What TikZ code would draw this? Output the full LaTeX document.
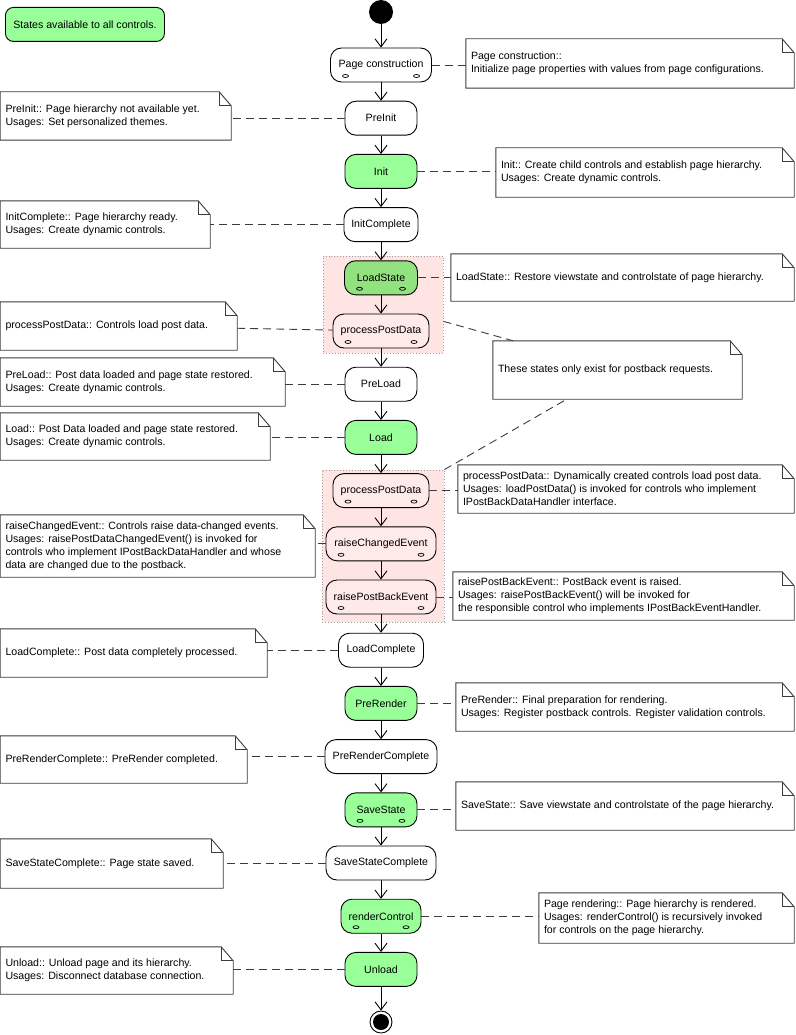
\documentclass[tikz,border=0pt]{standalone}
\usepackage{fontspec}
\setmainfont{Liberation Sans}
\usetikzlibrary{arrows.meta,calc}
\definecolor{stgreen}{RGB}{153,255,153}
\definecolor{ldgreen}{RGB}{146,226,128}
\definecolor{rgpink}{RGB}{255,228,228}
\definecolor{ndpink}{RGB}{255,234,234}
\definecolor{dashgray}{RGB}{60,60,60}
\definecolor{notegray}{RGB}{60,60,60}
\tikzset{
  every node/.style={font=\fontsize{10.6}{13}\selectfont},
  stbox/.style={draw=black, line width=0.9pt, rounded corners=11pt, minimum height=34, inner sep=0pt, fill=white},
  grn/.style={fill=stgreen},
  ldg/.style={fill=ldgreen},
  pnk/.style={fill=ndpink},
  ovals/.style={path picture={
     \draw[line width=0.7pt] ([shift={(15pt,6pt)}]path picture bounding box.south west) ellipse [x radius=3pt, y radius=1.5pt];
     \draw[line width=0.7pt] ([shift={(-15pt,6pt)}]path picture bounding box.south east) ellipse [x radius=3pt, y radius=1.5pt];}},
  region/.style={draw=gray!75, dotted, line width=0.9pt, fill=rgpink, inner sep=0pt},
  noteframe/.style={draw=none, fill=none, inner sep=0pt},
  noteline/.style={draw=notegray, line width=0.9pt, line join=miter},
  notetext/.style={align=left, inner sep=0pt},
  dl/.style={draw=dashgray, line width=0.9pt, dash pattern=on 8pt off 5pt},
  arr/.style={line width=0.9pt, -{Straight Barb[length=8pt,width=12pt,line width=0.9pt]}},
  legendbox/.style={draw=black, line width=0.9pt, rounded corners=8pt, fill=stgreen, inner sep=0pt}
}
\newcommand\dnote[6]{%
  \node[noteframe, minimum width={#4-#2}, minimum height={#5-#3}] (#1) at ({(#2+#4)/2},{(#3+#5)/2}) {};
  \draw[noteline, fill=white] (#1.north west) -- ([xshift=-12pt]#1.north east) -- ([yshift=-14pt]#1.north east) -- (#1.south east) -- (#1.south west) -- cycle;
  \draw[noteline] ([xshift=-12pt]#1.north east) -- ([xshift=-12pt,yshift=-14pt]#1.north east) -- ([yshift=-14pt]#1.north east);
  \node[notetext, anchor=west] (#1t) at ([xshift=5pt]#1.west) {#6};
}
\begin{document}
\begin{tikzpicture}[x=1pt,y=-1pt]
\useasboundingbox[fill=white] (0,0) rectangle (795,1035);

% legend
\node[legendbox, minimum width=159, minimum height=34, anchor=north west] (leg) at (5,7) {States available to all controls.};

% regions
\node[region, minimum width=120, minimum height=97] (r1) at (383,304.5) {};
\node[region, minimum width=122, minimum height=152] (r2) at (383,546) {};

% notes
\dnote{pcN}{466}{39}{794}{88}{Page construction::\\Initialize page properties with values from page configurations.}
\dnote{piN}{0.5}{92}{231}{140}{PreInit:: Page hierarchy not available yet.\\Usages: Set personalized themes.}
\dnote{inN}{496}{148}{794}{197}{Init:: Create child controls and establish page hierarchy.\\Usages: Create dynamic controls.}
\dnote{icN}{0.5}{201}{210}{248}{InitComplete:: Page hierarchy ready.\\Usages: Create dynamic controls.}
\dnote{lsN}{451}{254}{794}{301}{LoadState:: Restore viewstate and controlstate of page hierarchy.}
\dnote{p1N}{0.5}{302}{237}{350}{processPostData:: Controls load post data.}
\dnote{pbN}{493}{341}{742}{399}{These states only exist for postback requests.}
\dnote{plN}{0.5}{358}{285}{406}{PreLoad:: Post data loaded and page state restored.\\Usages: Create dynamic controls.}
\dnote{ldN}{0.5}{413}{270}{460}{Load:: Post Data loaded and page state restored.\\Usages: Create dynamic controls.}
\dnote{p2N}{458}{465}{794}{513}{processPostData:: Dynamically created controls load post data.\\Usages: loadPostData() is invoked for controls who implement\\IPostBackDataHandler interface.}
\dnote{rcN}{0.5}{515}{315}{577}{raiseChangedEvent:: Controls raise data-changed events.\\Usages: raisePostDataChangedEvent() is invoked for\\controls who implement IPostBackDataHandler and whose\\data are changed due to the postback.}
\dnote{rpN}{453}{572}{794}{620}{raisePostBackEvent:: PostBack event is raised.\\Usages: raisePostBackEvent() will be invoked for\\the responsible control who implements IPostBackEventHandler.}
\dnote{lcN}{0.5}{629}{267}{677}{LoadComplete:: Post data completely processed.}
\dnote{prN}{456}{683}{794}{731}{PreRender:: Final preparation for rendering.\\Usages: Register postback controls. Register validation controls.}
\dnote{prcN}{0.5}{736}{247}{783}{PreRenderComplete:: PreRender completed.}
\dnote{ssN}{456}{782}{794}{830}{SaveState:: Save viewstate and controlstate of the page hierarchy.}
\dnote{sscN}{0.5}{839}{223}{888}{SaveStateComplete:: Page state saved.}
\dnote{rdN}{539}{893}{794}{943}{Page rendering:: Page hierarchy is rendered.\\Usages: renderControl() is recursively invoked\\for controls on the page hierarchy.}
\dnote{ulN}{0.5}{947}{233}{994}{Unload:: Unload page and its hierarchy.\\Usages: Disconnect database connection.}

% states
\node[circle, fill=black, minimum size=24, inner sep=0pt] (start) at (381,12) {};
\node[stbox, ovals, minimum width=101] (pc) at (381,65) {Page construction};
\node[stbox, minimum width=72] (pi) at (381,118.2) {PreInit};
\node[stbox, grn, minimum width=72] (in) at (381,171.4) {Init};
\node[stbox, minimum width=74] (ic) at (381,224.6) {InitComplete};
\node[stbox, ldg, ovals, minimum width=73] (ls) at (381,277.8) {LoadState};
\node[stbox, pnk, ovals, minimum width=96] (pp1) at (381,331) {processPostData};
\node[stbox, minimum width=72] (pl) at (381,384.2) {PreLoad};
\node[stbox, grn, minimum width=72] (ld) at (381,437.4) {Load};
\node[stbox, pnk, ovals, minimum width=96] (pp2) at (381,490.6) {processPostData};
\node[stbox, pnk, ovals, minimum width=110] (rc) at (381,543.8) {raiseChangedEvent};
\node[stbox, pnk, ovals, minimum width=110] (rp) at (381,597) {raisePostBackEvent};
\node[stbox, minimum width=85] (lc) at (381,650.2) {LoadComplete};
\node[stbox, grn, minimum width=72] (pr) at (381,703.4) {PreRender};
\node[stbox, minimum width=112] (prc) at (381,756.6) {PreRenderComplete};
\node[stbox, grn, ovals, minimum width=72] (ss) at (381,809.8) {SaveState};
\node[stbox, minimum width=110] (ssc) at (381,863) {SaveStateComplete};
\node[stbox, grn, ovals, minimum width=80] (rd) at (381,916.2) {renderControl};
\node[stbox, grn, minimum width=72] (ul) at (381,969.4) {Unload};
\node[circle, draw=black, line width=0.9pt, fill=white, minimum size=22, inner sep=0pt] (end) at (381,1022) {};
\fill[black] (end.center) circle [radius=8pt];

% flow arrows
\draw[arr] (start) -- (pc);
\draw[arr] (pc) -- (pi);
\draw[arr] (pi) -- (in);
\draw[arr] (in) -- (ic);
\draw[arr] (ic) -- (ls);
\draw[arr] (ls) -- (pp1);
\draw[arr] (pp1) -- (pl);
\draw[arr] (pl) -- (ld);
\draw[arr] (ld) -- (pp2);
\draw[arr] (pp2) -- (rc);
\draw[arr] (rc) -- (rp);
\draw[arr] (rp) -- (lc);
\draw[arr] (lc) -- (pr);
\draw[arr] (pr) -- (prc);
\draw[arr] (prc) -- (ss);
\draw[arr] (ss) -- (ssc);
\draw[arr] (ssc) -- (rd);
\draw[arr] (rd) -- (ul);
\draw[arr] (ul) -- (end);

% note connectors
\draw[dl] (pc.east) -- (pcN.west |- pc.east);
\draw[dl] (pi.west) -- (piN.east |- pi.west);
\draw[dl] (in.east) -- (inN.west |- in.east);
\draw[dl] (ic.west) -- (icN.east |- ic.west);
\draw[dl] (ls.east) -- (lsN.west |- ls.east);
\draw[dl] (p1N) -- (pp1);
\draw[dl] (r1) -- (pbN);
\draw[dl] (r2.north east) -- (pbN);
\draw[dl] (pl.west) -- (plN.east |- pl.west);
\draw[dl] (ld.west) -- (ldN.east |- ld.west);
\draw[dl] (pp2.east) -- (p2N.west |- pp2.east);
\draw[dl] (rc.west) -- (rcN.east |- rc.west);
\draw[dl] (rp.east) -- (rpN.west |- rp.east);
\draw[dl] (lc.west) -- (lcN.east |- lc.west);
\draw[dl] (pr.east) -- (prN.west |- pr.east);
\draw[dl] (prc.west) -- (prcN.east |- prc.west);
\draw[dl] (ss.east) -- (ssN.west |- ss.east);
\draw[dl] (ssc.west) -- (sscN.east |- ssc.west);
\draw[dl] (rd.east) -- (rdN.west |- rd.east);
\draw[dl] (ul.west) -- (ulN.east |- ul.west);
\end{tikzpicture}
\end{document}
